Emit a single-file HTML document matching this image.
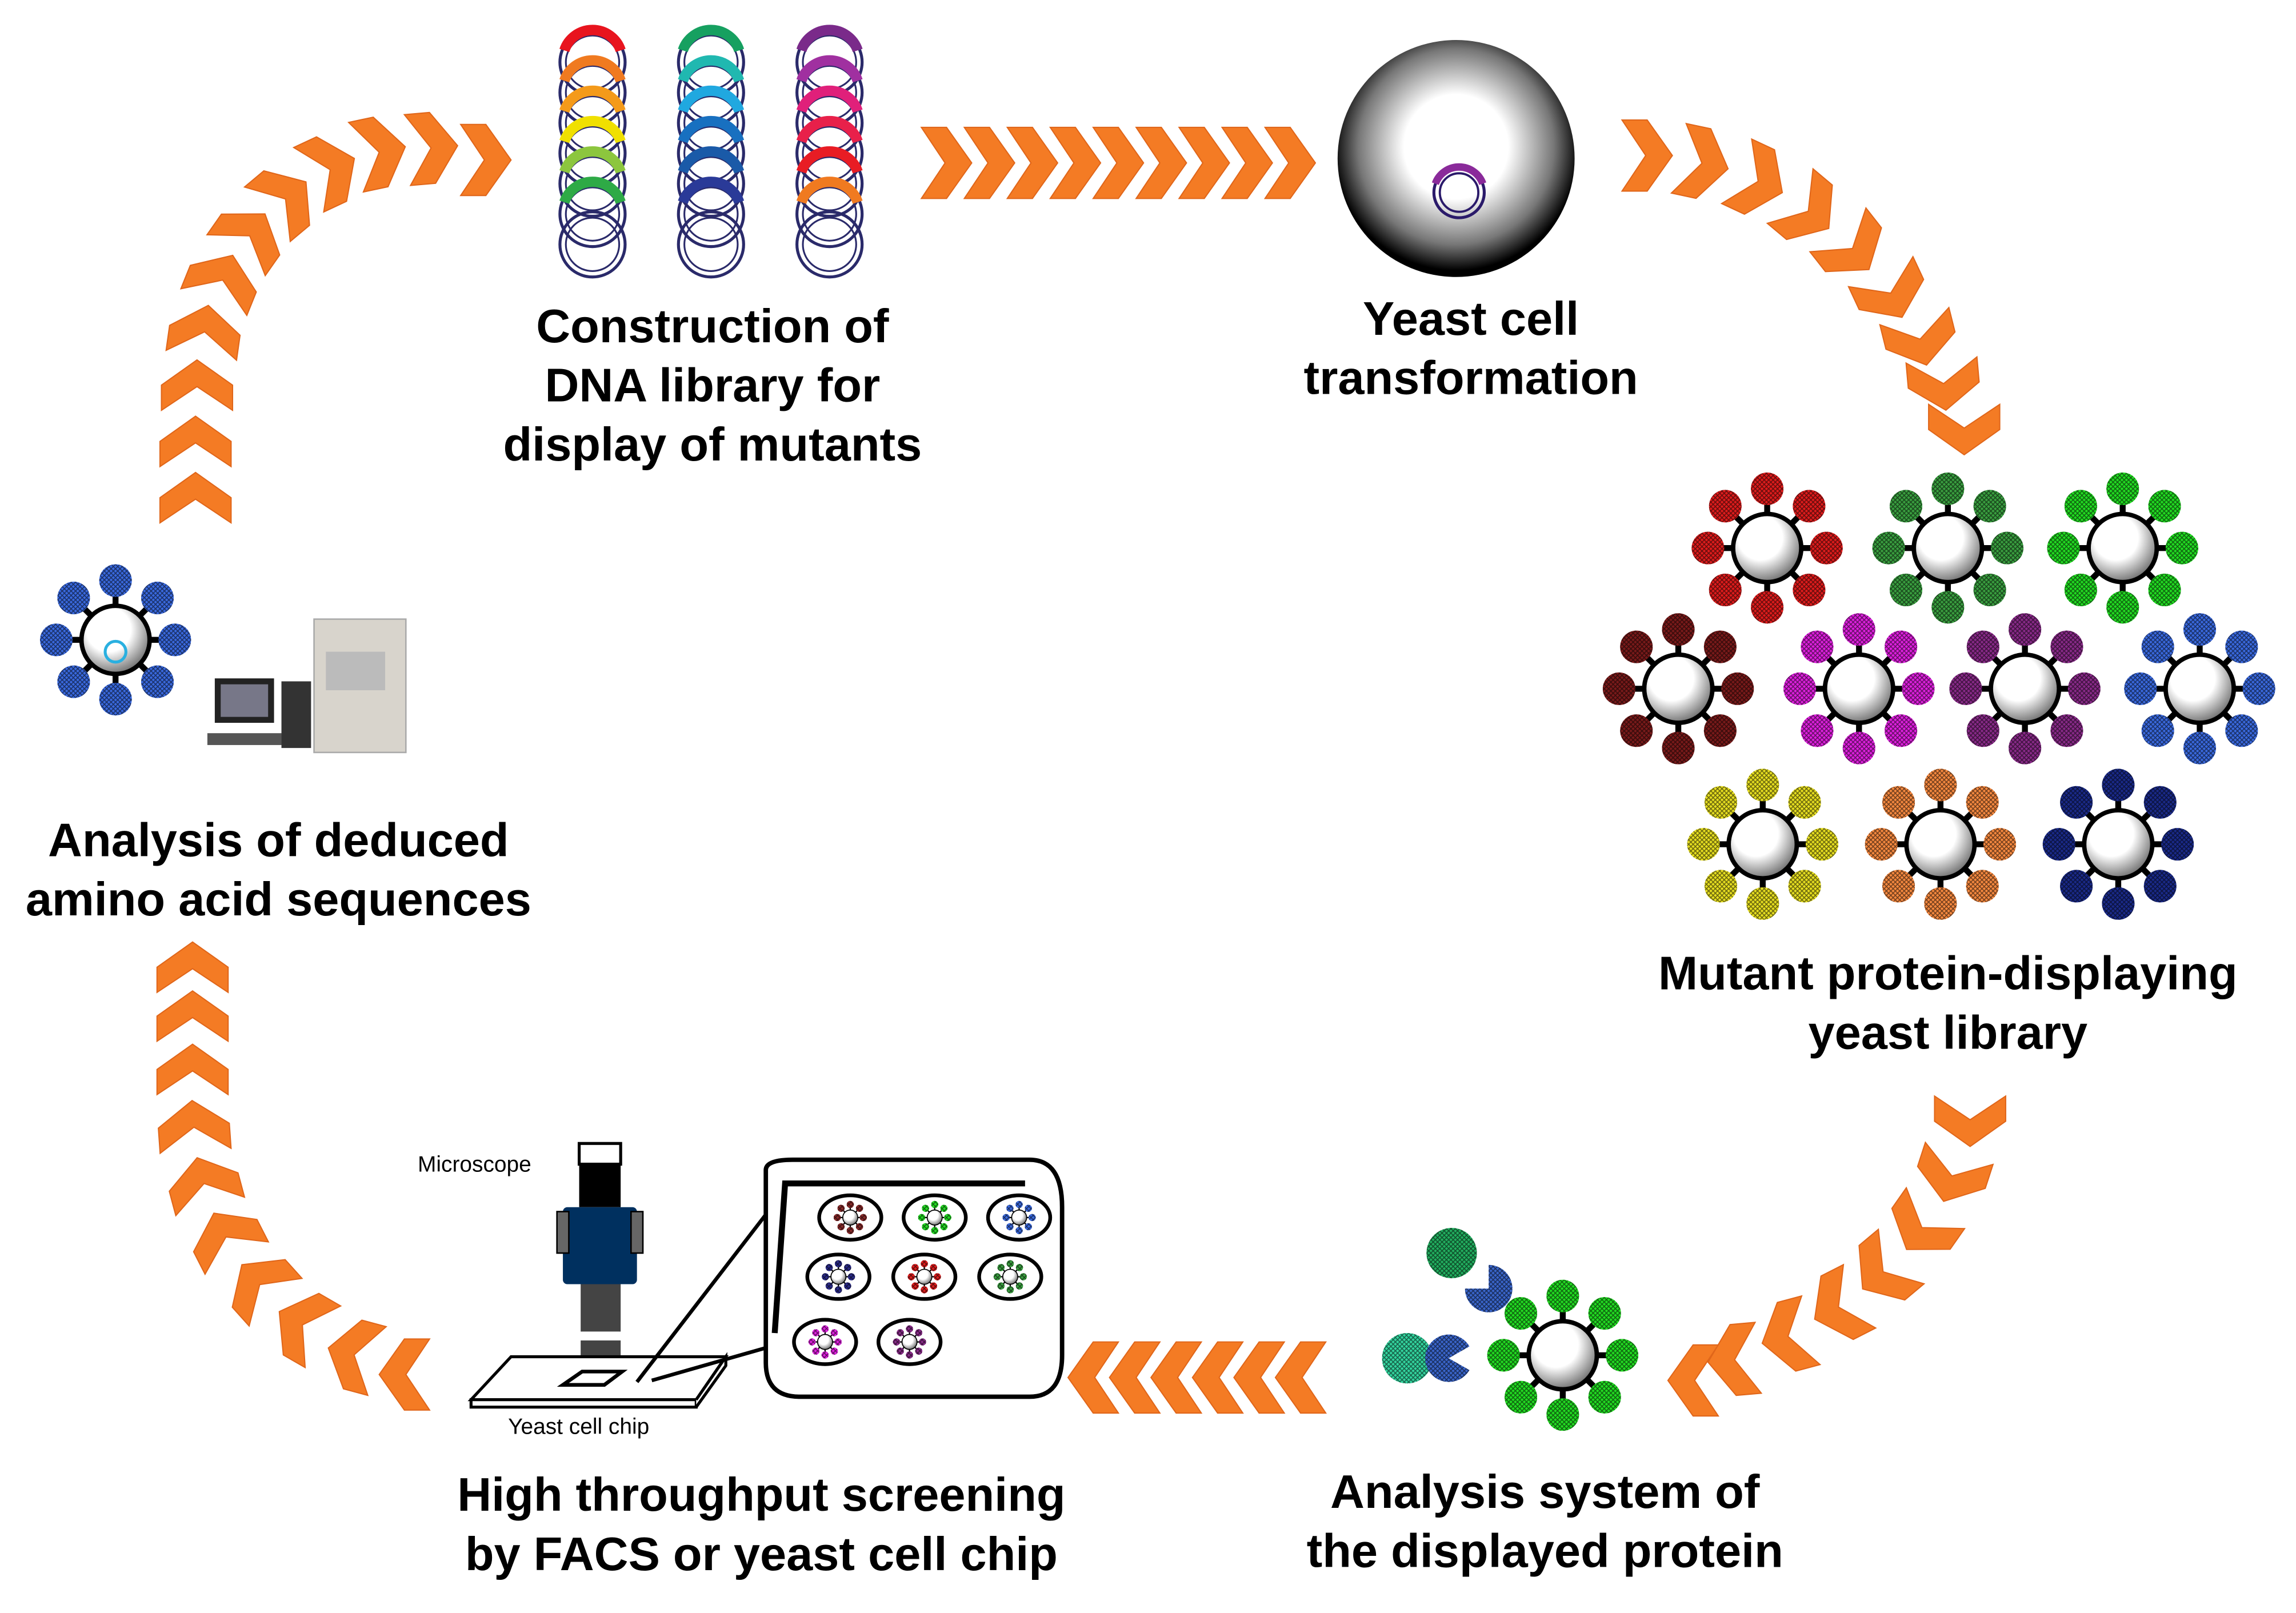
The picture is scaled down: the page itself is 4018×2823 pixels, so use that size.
<!DOCTYPE html>
<html><head><meta charset="utf-8"><style>
html,body{margin:0;padding:0;background:#fff}
svg{display:block}
text{font-family:"Liberation Sans",Arial,sans-serif}
.t{font-weight:bold;font-size:32px;text-anchor:middle;fill:#000}
</style></head><body>
<svg id="s" width="4018" height="2823" viewBox="0 0 1550 1089" xmlns="http://www.w3.org/2000/svg">
<defs>
<radialGradient id="yc" cx="50%" cy="45%" r="55%"><stop offset="0.4" stop-color="#fff"/><stop offset="0.75" stop-color="#777"/><stop offset="0.95" stop-color="#000"/></radialGradient>
<radialGradient id="cg" cx="40%" cy="35%" r="65%"><stop offset="0.5" stop-color="#fff"/><stop offset="1" stop-color="#777"/></radialGradient>
<pattern id="h" width="3" height="3" patternUnits="userSpaceOnUse"><path d="M0 0L3 3M3 0L0 3" stroke="#000" stroke-width="0.6" opacity="0.55"/></pattern>
<path id="ch" d="M-15,-24 L2,-24 L19,0 L2,24 L-15,24 L1,0 Z" fill="#f47b24" stroke="#e0661a" stroke-width="0.8"/>
</defs>
<g id="chev"></g>
<g id="dna"></g>
<circle cx="983" cy="107" r="80" fill="url(#yc)"/>
<circle cx="985" cy="130" r="17" fill="none" stroke="#2a1a6a" stroke-width="2"/>
<circle cx="985" cy="130" r="13" fill="none" stroke="#2a1a6a" stroke-width="1.5"/>
<path d="M969,124 A17,17 0 0 1 1001,124" fill="none" stroke="#8a2a9a" stroke-width="5"/>
<g id="cells"></g>
<rect x="212" y="418" width="62" height="90" fill="#d8d4cc" stroke="#aaa"/>
<rect x="220" y="440" width="40" height="26" fill="#bbb"/>
<rect x="190" y="460" width="20" height="45" fill="#333"/>
<rect x="145" y="458" width="40" height="30" fill="#222"/><rect x="149" y="462" width="32" height="22" fill="#778"/>
<rect x="140" y="495" width="50" height="8" fill="#555"/>
<rect x="391" y="772" width="28" height="14" fill="#fff" stroke="#000" stroke-width="2"/>
<rect x="391" y="785" width="28" height="30" fill="#000"/>
<rect x="380" y="815" width="50" height="52" fill="#00305f" rx="3"/>
<rect x="376" y="818" width="8" height="28" fill="#666" stroke="#000"/><rect x="426" y="818" width="8" height="28" fill="#666" stroke="#000"/>
<rect x="392" y="867" width="27" height="32" fill="#444"/>
<rect x="393" y="899" width="25" height="6" fill="#fff"/>
<path d="M392 905h27v15q-13 6-27 0z" fill="#444"/>
<path d="M400 935l-2 8M408 935v8M416 935l2 8" stroke="#000" stroke-width="1.5"/>
<path d="M318 945 L345 916 L490 916 L470 945 Z" fill="#fff" stroke="#000" stroke-width="2"/>
<path d="M318 945 L470 945 L470 950 L318 950 Z" fill="#fff" stroke="#000" stroke-width="2"/>
<path d="M470 945 L490 916 L490 922 L470 950" fill="#fff" stroke="#000" stroke-width="2"/>
<path d="M380 935 L393 926 L420 926 L408 935 Z" fill="none" stroke="#000" stroke-width="2.5"/>
<path d="M430 933 L517 820 M440 932 L517 910" stroke="#000" stroke-width="2.5"/>
<path d="M517 790 Q517 783 535 783 L695 783 Q717 783 717 815 L717 915 Q717 943 695 943 L540 943 Q517 943 517 920 Z" fill="#fff" stroke="#000" stroke-width="3"/>
<path d="M523 900 L530 799 L692 799" fill="none" stroke="#000" stroke-width="4"/>
<g id="minis"></g>
<text x="282" y="791" font-size="15">Microscope</text>
<text x="343" y="968" font-size="15">Yeast cell chip</text>
<circle cx="980" cy="846" r="17" fill="#22b060"/><circle cx="980" cy="846" r="17" fill="url(#h)"/>
<path d="M1005 870 m-16,0 a16,16 0 1 0 16,-16 l0,16 z" fill="#3a66cc"/><path d="M1005 870 m-16,0 a16,16 0 1 0 16,-16 l0,16 z" fill="url(#h)"/>
<circle cx="950" cy="917" r="17" fill="#33d6a0"/><circle cx="950" cy="917" r="17" fill="url(#h)"/>
<path d="M978 917 m0,-16 a16,16 0 1 0 14,24 l-14,-8 l14,-8 a16,16 0 0 0 -14,-8z" fill="#3a66cc"/><path d="M978 917 m0,-16 a16,16 0 1 0 14,24 l-14,-8 l14,-8 a16,16 0 0 0 -14,-8z" fill="url(#h)"/>
<text class="t" x="481" y="231">Construction of</text>
<text class="t" x="481" y="271">DNA library for</text>
<text class="t" x="481" y="311">display of mutants</text>
<text class="t" x="993" y="226">Yeast cell</text>
<text class="t" x="993" y="266">transformation</text>
<text class="t" x="1315" y="668">Mutant protein-displaying</text>
<text class="t" x="1315" y="708">yeast library</text>
<text class="t" x="1043" y="1018">Analysis system of</text>
<text class="t" x="1043" y="1058">the displayed protein</text>
<text class="t" x="514" y="1020">High throughput screening</text>
<text class="t" x="514" y="1060">by FACS or yeast cell chip</text>
<text class="t" x="188" y="578">Analysis of deduced</text>
<text class="t" x="188" y="618">amino acid sequences</text>
</svg>
<script>
var NS="http://www.w3.org/2000/svg";
function el(p,t,a){var e=document.createElementNS(NS,t);for(var k in a)e.setAttribute(k,a[k]);p.appendChild(e);return e;}
var ch=document.getElementById('chev');
var C=[];
for(var i=0;i<9;i++)C.push([637+i*29,110,0]);
[[132,338,-90],[132,300,-90],[133,262,-90],[138,225,-82],[150,190,-68],[168,160,-55],[192,135,-40],[222,115,-25],[255,103,-12],[290,100,-5],[326,108,0]].forEach(function(c){C.push(c)});
[[1110,105,0],[1148,110,12],[1186,122,25],[1220,142,40],[1250,167,52],[1276,197,65],[1296,228,76],[1312,258,85],[1326,288,90]].forEach(function(c){C.push(c)});
[[1330,755,90],[1318,793,108],[1298,828,125],[1272,858,140],[1242,882,153],[1208,902,165],[1172,918,175],[1145,932,180]].forEach(function(c){C.push(c)});
for(var i=0;i<6;i++)C.push([880-i*28,930,180]);
[[275,928,180],[240,915,195],[205,895,210],[176,868,228],[153,836,243],[138,800,255],[131,762,266],[130,724,270],[130,688,270],[130,655,270]].forEach(function(c){C.push(c)});
C.forEach(function(c){el(ch,'use',{href:'#ch',transform:'translate('+c[0]+','+c[1]+') rotate('+c[2]+')'});});
var dna=document.getElementById('dna');
var cols=[[400,['#e8141e','#f07a20','#f49a1a','#f0e000','#8cc63e','#2eaa46',null]],[480,['#16a060','#20b8b0','#20a8e0','#1870c0','#1a5aa8','#2a3a98',null]],[560,['#7a2a8a','#a030a0','#e0207a','#e8204a','#e81c24','#f07a20',null]]];
cols.forEach(function(c){var x=c[0];for(var i=0;i<7;i++){var y=42+i*20.5;el(dna,'circle',{cx:x,cy:y,r:22,fill:'none',stroke:'#2a2a6a','stroke-width':2});el(dna,'circle',{cx:x,cy:y,r:18,fill:'none',stroke:'#2a2a6a','stroke-width':1.2});if(c[1][i])el(dna,'path',{d:'M'+(x-19)+','+(y-8)+' A20,20 0 0 1 '+(x+19)+','+(y-8),fill:'none',stroke:c[1][i],'stroke-width':7});}});
function cell(p,x,y,col,s){s=s||1;var R=40*s,r=11*s;for(var k=0;k<8;k++){var a=k*Math.PI/4;var px=x+Math.cos(a)*R,py=y+Math.sin(a)*R;el(p,'line',{x1:x,y1:y,x2:px,y2:py,stroke:'#000','stroke-width':4*s});el(p,'circle',{cx:px,cy:py,r:r,fill:col});el(p,'circle',{cx:px,cy:py,r:r,fill:'url(#h)'});}
el(p,'circle',{cx:x,cy:y,r:23*s,fill:'url(#cg)',stroke:'#000','stroke-width':3*s});}
var cs=document.getElementById('cells');
[[1193,370,'#e01c1c'],[1315,370,'#3aa040'],[1433,370,'#22dd22'],[1133,465,'#7a1a1a'],[1255,465,'#e020e0'],[1367,465,'#8a2a8a'],[1485,465,'#3a6ae0'],[1190,570,'#e8e020'],[1310,570,'#f88a40'],[1430,570,'#1a2a8a'],[78,432,'#3a6ae0'],[1055,915,'#22dd22']].forEach(function(c){cell(cs,c[0],c[1],c[2]);});
el(cs,'circle',{cx:78,cy:440,r:7,fill:'none',stroke:'#2ab0e0','stroke-width':2});
var mn=document.getElementById('minis');
[[574,822,'#8a2a2a'],[631,822,'#22dd22'],[688,822,'#3a6ae0'],[566,862,'#2a2a8a'],[624,862,'#e01c1c'],[682,862,'#3aa040'],[557,906,'#e020e0'],[614,906,'#8a2a8a']].forEach(function(c){el(mn,'ellipse',{cx:c[0],cy:c[1],rx:21,ry:15,fill:'#fff',stroke:'#000','stroke-width':2.5});cell(mn,c[0],c[1],c[2],0.22);});
</script>
</body></html>
